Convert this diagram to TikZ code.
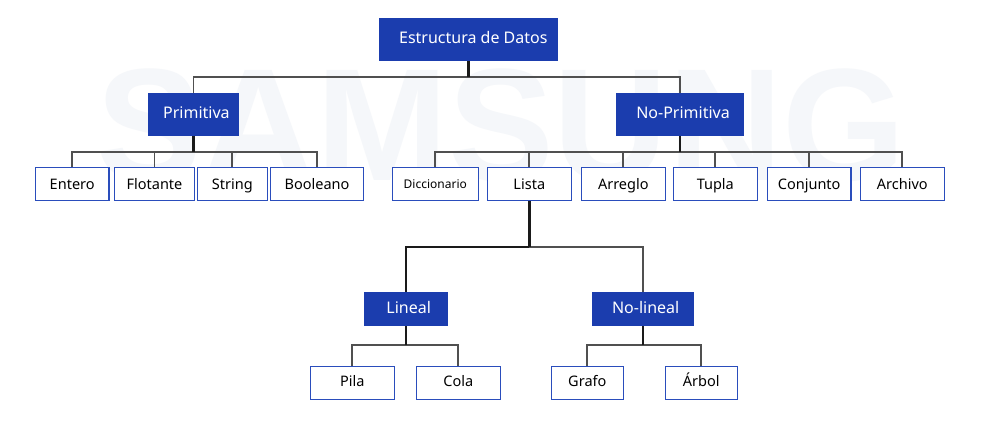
\documentclass[tikz,border=0pt]{standalone}
\usepackage{fontspec}
\setmainfont{Noto Sans}
\newfontfamily\wmfont{Liberation Sans}
\usetikzlibrary{calc}
\definecolor{bluefill}{HTML}{1B3DAE}
\definecolor{blueborder}{HTML}{2A4DBC}
\definecolor{wmcol}{HTML}{F5F7FA}
\definecolor{linegray}{HTML}{505050}
\definecolor{linedark}{HTML}{1A1A1A}
\tikzset{
  catbox/.style={fill=bluefill, draw=none, text=white, inner sep=0pt,
    font=\fontsize{16}{18}\selectfont, minimum height=42.5pt, text height=11.5pt, text depth=3.5pt},
  subbox/.style={fill=bluefill, draw=none, text=white, inner sep=0pt,
    font=\fontsize{16}{18}\selectfont, minimum height=34pt, text height=11.5pt, text depth=3.5pt},
  leafbox/.style={fill=white, draw=blueborder, line width=1.3pt, text=black, inner sep=0pt,
    font=\fontsize{14.5}{16}\selectfont, minimum height=33pt, text height=10.5pt, text depth=3pt},
  rowone/.style={leafbox, minimum height=33.4pt, text height=13.4pt, text depth=3pt},
  pline/.style={draw=linedark, line width=2.4pt},
  cline/.style={draw=linegray, line width=1.8pt},
}
\begin{document}
\begin{tikzpicture}[x=1pt,y=-1pt]
\useasboundingbox (0,0) rectangle (992,421);
\fill[white] (0,0) rectangle (992,421);
% watermark
\node[text=wmcol, font=\wmfont\bfseries\fontsize{160}{160}\selectfont, inner sep=0pt, anchor=base, xscale=0.99] (wm) at (501,180) {SAMSUNG};

% top level
\node[catbox, minimum width=178.7pt] (root) at (468.3,39.4) {\hspace*{10pt}Estructura de Datos};
\node[catbox, minimum width=90.7pt] (prim) at (193.4,114.5) {\hspace*{6pt}Primitiva};
\node[catbox, minimum width=128pt] (nprim) at (680,114.4) {\hspace*{6pt}No-Primitiva};

% primitive leaves
\node[rowone, minimum width=73.7pt] (entero) at (72.2,184) {Entero};
\node[rowone, minimum width=80.4pt] (flot) at (154.5,184) {Flotante};
\node[rowone, minimum width=70pt] (string) at (232.3,184) {String};
\node[rowone, minimum width=93.4pt] (bool) at (317,184) {Booleano};

% non-primitive leaves
\node[rowone, minimum width=86pt, font=\fontsize{12}{14}\selectfont, text height=11.4pt, text depth=2.5pt] (dicc) at (435.3,184) {Diccionario};
\node[rowone, minimum width=84pt] (lista) at (529.3,184) {Lista};
\node[rowone, minimum width=84pt] (arreglo) at (623.3,184) {Arreglo};
\node[rowone, minimum width=84pt] (tupla) at (715.3,184) {Tupla};
\node[rowone, minimum width=83.7pt] (conj) at (809.2,184) {Conjunto};
\node[rowone, minimum width=84pt] (archivo) at (902.3,184) {Archivo};

% lista subtree
\node[subbox, minimum width=84.3pt] (lineal) at (406.2,309) {\hspace*{5pt}Lineal};
\node[subbox, minimum width=102.3pt] (nolineal) at (643.2,309) {\hspace*{5pt}No-lineal};

\node[leafbox, minimum width=84pt] (pila) at (352.3,382.8) {Pila};
\node[leafbox, minimum width=84pt] (cola) at (458.3,382.8) {Cola};
\node[leafbox, minimum width=72pt] (grafo) at (587.3,382.8) {Grafo};
\node[leafbox, minimum width=72pt] (arbol) at (701.3,382.8) {Árbol};

% connectors: root
\draw[cline] (prim.north) |- ($(root.south)+(0,16)$);
\draw[cline] (nprim.north) |- ($(root.south)+(0,16)$);
\draw[pline] (root.south) -- ++(0,16);

% primitiva
\foreach \c in {entero,flot,string,bool}
  \draw[cline] (\c.north) |- ($(prim.south)+(0,16)$);
\draw[pline] (prim.south) -- ++(0,16);

% no-primitiva
\foreach \c in {dicc,lista,arreglo,tupla,conj,archivo}
  \draw[cline] (\c.north) |- ($(nprim.south)+(0,16)$);
\draw[pline] (nprim.south) -- ++(0,16);

% lista
\draw[cline, draw=linedark] (lineal.north) |- ($(lista.south)+(0,45.3)$);
\draw[cline] (nolineal.north) |- ($(lista.south)+(0,45.3)$);
\draw[pline] (lista.south) -- ++(0,45.3);

% lineal
\foreach \c in {pila,cola}
  \draw[cline] (\c.north) |- ($(lineal.south)+(0,19)$);
\draw[pline] (lineal.south) -- ++(0,19);

% no-lineal
\foreach \c in {grafo,arbol}
  \draw[cline] (\c.north) |- ($(nolineal.south)+(0,19)$);
\draw[pline] (nolineal.south) -- ++(0,19);
\end{tikzpicture}
\end{document}
